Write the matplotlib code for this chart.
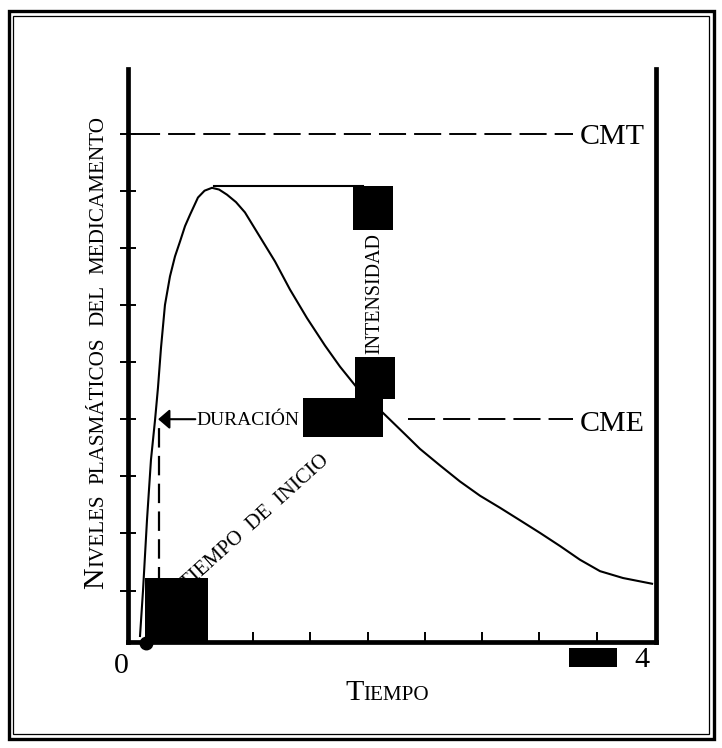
import matplotlib
matplotlib.use("Agg")
import matplotlib.pyplot as plt
from matplotlib.patches import Rectangle

plt.rcParams['font.family'] = ['Liberation Serif', 'DejaVu Serif']
plt.rcParams['lines.scale_dashes'] = False

W, H = 722, 748

# ---- data (time in arbitrary units 0..4, concentration in tick units) ----
time = [0.091, 0.114, 0.144, 0.174, 0.205, 0.227, 0.250, 0.280, 0.318, 0.356,
        0.394, 0.432, 0.470, 0.530, 0.580, 0.636, 0.690, 0.750, 0.818, 0.886,
        0.992, 1.114, 1.227, 1.356, 1.492, 1.606, 1.735, 1.932, 2.106, 2.212,
        2.364, 2.515, 2.667, 2.818, 2.970, 3.121, 3.273, 3.424, 3.576, 3.750,
        3.970]
conc = [0.205, 1.01, 2.24, 3.29, 3.99, 4.55, 5.25, 6.00, 6.50, 6.85,
        7.11, 7.38, 7.58, 7.88, 8.00, 8.05, 8.02, 7.93, 7.80, 7.62,
        7.22, 6.76, 6.27, 5.77, 5.29, 4.92, 4.55, 4.11, 3.72, 3.48,
        3.19, 2.91, 2.66, 2.45, 2.23, 2.01, 1.78, 1.54, 1.34, 1.22,
        1.12]

cmt_level = 9.0
cme_level = 4.0
onset_time = 0.235
onset_dot = (0.14, 0.08)
peak_level = 8.08
peak_line_span = [0.65, 1.78]
cmt_span = [0.04, 3.37]
cme_span = [2.12, 3.37]
arrow_span = [0.51, 0.228]

x_ticks = [0.513, 0.947, 1.381, 1.815, 2.249, 2.683, 3.117, 3.551]
y_ticks = [1, 2, 3, 4, 5, 6, 7, 8, 9]

# black boxes (t0, c0, t1, c1)
boxes = [(0.129, 0.117, 0.606, 1.22),
         (1.326, 3.69, 1.932, 4.37),
         (1.720, 4.36, 2.023, 5.09),
         (1.705, 7.31, 2.008, 8.09),
         (3.341, -0.338, 3.705, -0.005)]

# ---- figure ----
fig = plt.figure(figsize=(W / 100, H / 100), dpi=100)

def fx(px):
    return px / W

def fy(py):
    return 1 - py / H

ax = fig.add_axes([fx(128), fy(642), (656 - 128) / W, (642 - 69) / H])
ax.set_xlim(0, 4)
ax.set_ylim(0.1, 10.13)
ax.set_facecolor('none')
for s in ['left', 'right', 'bottom']:
    ax.spines[s].set_linewidth(3.4)
    ax.spines[s].set_color('black')
ax.spines['top'].set_visible(False)

ax.set_xticks(x_ticks)
ax.set_yticks(y_ticks)
ax.tick_params(axis='y', direction='inout', length=11, width=1.4, left=True,
               right=False, labelleft=False)
ax.tick_params(axis='x', direction='in', length=7, width=1.4, labelbottom=False)

# curve
ax.plot(time, conc, color='black', lw=1.5, zorder=3)

# reference lines
ax.plot(cmt_span, [cmt_level, cmt_level], color='black', lw=1.4,
        dashes=(19.5, 5.8), zorder=2)
ax.plot(cme_span, [cme_level, cme_level], color='black', lw=1.4,
        dashes=(19.5, 5.8), zorder=2)
ax.plot(peak_line_span, [peak_level, peak_level], color='black', lw=1.5, zorder=2)
ax.plot([onset_time, onset_time], [0.1, cme_level - 0.15], color='black', lw=1.6,
        dashes=(14, 6), zorder=2)

ax.annotate('', xy=(arrow_span[1], cme_level), xytext=(arrow_span[0], cme_level),
            arrowprops=dict(arrowstyle='-|>,head_length=0.7,head_width=0.6',
                            mutation_scale=10, color='black', lw=1.5,
                            shrinkA=0, shrinkB=0))

# onset dot
ax.plot([onset_dot[0]], [onset_dot[1]], 'o', color='black', ms=9, clip_on=False, zorder=6)

serif = ['Liberation Serif', 'DejaVu Serif']
# rotated label lives in the axes so the black box can cover its first letter
ax.text(fx(330), fy(462), 'TIEMPO  DE  INICIO', fontsize=15, family=serif,
        rotation=42, rotation_mode='anchor', ha='right', va='baseline',
        transform=fig.transFigure, clip_on=False, zorder=1)

for (t0, c0, t1, c1) in boxes:
    ax.add_patch(Rectangle((t0, c0), t1 - t0, c1 - c0, facecolor='black',
                           edgecolor='none', zorder=10, clip_on=False))

# ---- texts ----
fig.text(fx(580), fy(144), 'CMT', fontsize=21.6, family=serif, ha='left', va='baseline')
fig.text(fx(580), fy(431), 'CME', fontsize=21.6, family=serif, ha='left', va='baseline')
fig.text(fx(196), fy(425), 'DURACIÓN', fontsize=14, family=serif, ha='left', va='baseline')
fig.text(fx(379), fy(294), 'INTENSIDAD', fontsize=14.4, family=serif, rotation=90,
         rotation_mode='anchor', ha='center', va='baseline')
fig.text(fx(114), fy(673), '0', fontsize=21.6, family=serif, ha='left', va='baseline')
fig.text(fx(634), fy(667), '4', fontsize=21.6, family=serif, ha='left', va='baseline')

fig.canvas.draw()
renderer = fig.canvas.get_renderer()

def small_caps(pieces, x0, y0, vertical):
    pos = 0.0
    for s, size, gap in pieces:
        if vertical:
            fig.text(fx(x0), fy(y0 - pos), s, fontsize=size, family=serif,
                     rotation=90, rotation_mode='anchor', ha='left', va='baseline')
            tmp = fig.text(0, 0, s, fontsize=size, family=serif)
            w = tmp.get_window_extent(renderer).width
            tmp.remove()
        else:
            t = fig.text(fx(x0 + pos), fy(y0), s, fontsize=size, family=serif,
                         ha='left', va='baseline')
            w = t.get_window_extent(renderer).width
        pos += w + gap

big, small = 21.6, 15.2
small_caps([('N', big, 0), ('IVELES', small, 11), ('PLASMÁTICOS', small, 11),
            ('DEL', small, 11), ('MEDICAMENTO', small, 0)], 103, 589, True)
small_caps([('T', big, 0), ('IEMPO', small, 0)], 345, 700, False)

# ---- double frame ----
fig.add_artist(Rectangle((fx(8.5), fy(739)), (714 - 8.5) / W, (739 - 11) / H,
                         transform=fig.transFigure, fill=False, lw=2.4,
                         edgecolor='black'))
fig.add_artist(Rectangle((fx(13), fy(734)), (709 - 13) / W, (734 - 16) / H,
                         transform=fig.transFigure, fill=False, lw=0.9,
                         edgecolor='black'))

fig.savefig('out.png', dpi=100)
